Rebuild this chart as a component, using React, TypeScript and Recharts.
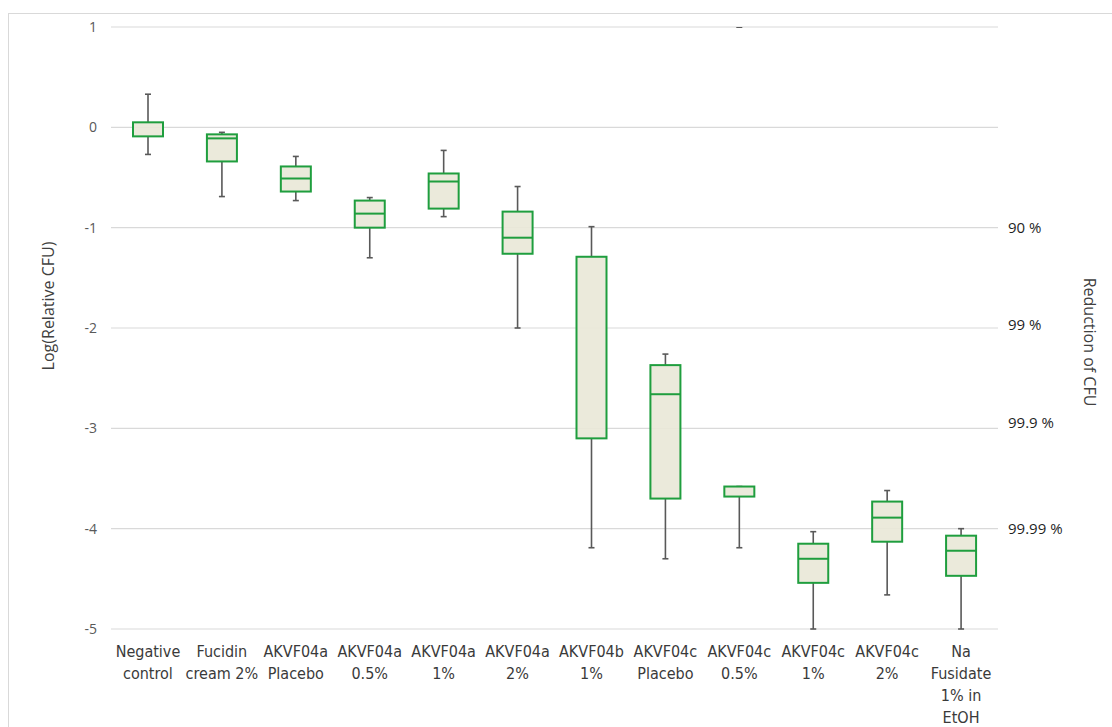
import React from "react";
import {
  ComposedChart,
  Bar,
  Scatter,
  XAxis,
  YAxis,
  CartesianGrid,
} from "recharts";

const categories = [
  "Negative\ncontrol",
  "Fucidin\ncream 2%",
  "AKVF04a\nPlacebo",
  "AKVF04a\n0.5%",
  "AKVF04a\n1%",
  "AKVF04a\n2%",
  "AKVF04b\n1%",
  "AKVF04c\nPlacebo",
  "AKVF04c\n0.5%",
  "AKVF04c\n1%",
  "AKVF04c\n2%",
  "Na\nFusidate\n1% in\nEtOH",
];
const whiskerMax = [0.33, -0.05, -0.29, -0.7, -0.23, -0.59, -0.99, -2.26, -3.58, -4.03, -3.62, -4.0];
const q3 = [0.05, -0.07, -0.39, -0.73, -0.46, -0.84, -1.29, -2.37, -3.58, -4.15, -3.73, -4.07];
const median: (number | null)[] = [null, -0.11, -0.51, -0.86, -0.54, -1.1, null, -2.66, null, -4.3, -3.89, -4.22];
const q1 = [-0.09, -0.34, -0.64, -1.0, -0.81, -1.26, -3.1, -3.7, -3.68, -4.54, -4.13, -4.47];
const whiskerMin = [-0.27, -0.69, -0.73, -1.3, -0.89, -2.0, -4.19, -4.3, -4.19, -5.0, -4.66, -5.0];
const strayCap: (number | null)[] = [null, null, null, null, null, null, null, null, 1, null, null, null];

const leftTicks = [-5, -4, -3, -2, -1, 0, 1];
const rightTickValues = [-1, -1.97, -2.95, -4];
const rightTickLabels = ["90 %", "99 %", "99.9 %", "99.99 %"];

const data = categories.map((name, i) => ({
  name,
  range: [whiskerMin[i], whiskerMax[i]],
  min: whiskerMin[i],
  max: whiskerMax[i],
  q1: q1[i],
  q3: q3[i],
  median: median[i],
  stray: strayCap[i],
}));

const BOX_FILL = "#e9e8d8";
const BOX_STROKE = "#1f9e3e";
const WHISKER = "#595959";

const BoxShape = (props: any) => {
  const { x, y, width, height, payload } = props;
  if (x == null || y == null) return null;
  const top = Math.min(y, y + height);
  const bot = Math.max(y, y + height);
  const { min, max } = payload;
  const span = max - min;
  const pix = (v: number) => (span === 0 ? top : top + ((max - v) / span) * (bot - top));
  const cx = x + width / 2;
  const yQ3 = pix(payload.q3);
  const yQ1 = pix(payload.q1);
  const cap = 3;
  return (
    <g>
      <line x1={cx} x2={cx} y1={pix(max)} y2={yQ3} stroke={WHISKER} strokeWidth={1.6} />
      <line x1={cx} x2={cx} y1={yQ1} y2={pix(min)} stroke={WHISKER} strokeWidth={1.6} />
      <line x1={cx - cap} x2={cx + cap} y1={pix(max)} y2={pix(max)} stroke={WHISKER} strokeWidth={1.6} />
      <line x1={cx - cap} x2={cx + cap} y1={pix(min)} y2={pix(min)} stroke={WHISKER} strokeWidth={1.6} />
      <rect x={x} y={yQ3} width={width} height={Math.max(0, yQ1 - yQ3)} fill={BOX_FILL} fillOpacity={0.92} stroke={BOX_STROKE} strokeWidth={2} />
      {payload.median != null && (
        <line x1={x} x2={x + width} y1={pix(payload.median)} y2={pix(payload.median)} stroke={BOX_STROKE} strokeWidth={2} />
      )}
    </g>
  );
};

const StrayShape = (props: any) => {
  const { cx, cy, payload } = props;
  if (payload == null || payload.stray == null || cx == null || cy == null || isNaN(cy)) return <g />;
  return <line x1={cx - 3} x2={cx + 3} y1={cy} y2={cy} stroke={WHISKER} strokeWidth={1.8} />;
};

const CategoryTick = (props: any) => {
  const { x, y, payload } = props;
  const lines = String(payload.value).split("\n");
  return (
    <text
      x={x}
      y={y}
      textAnchor="middle"
      fill="#3a3a3a"
      fontSize={16}
      fontFamily="'Liberation Sans Narrow', 'DejaVu Sans Condensed', 'Noto Sans', sans-serif"
    >
      {lines.map((l, i) => (
        <tspan key={i} x={x} dy={i === 0 ? 20 : 22}>
          {l}
        </tspan>
      ))}
    </text>
  );
};

const RightTick = (props: any) => {
  const { x, y, payload } = props;
  const idx = rightTickValues.indexOf(payload.value);
  return (
    <text x={x} y={y} dy={5} textAnchor="start" fill="#1f1f1f" fontSize={15} fontFamily="'Open Sans', 'Noto Sans', sans-serif">
      {idx >= 0 ? rightTickLabels[idx] : ""}
    </text>
  );
};

const LeftTitle = (props: any) => {
  const vb = props.viewBox || {};
  const cx = vb.x + 48;
  const cy = vb.y + vb.height / 2 - 22;
  return (
    <text x={cx} y={cy} transform={`rotate(-90 ${cx} ${cy})`} textAnchor="middle" dominantBaseline="central" fill="#404040" fontSize={16} fontFamily="'Open Sans', 'Noto Sans', sans-serif">
      Log(Relative CFU)
    </text>
  );
};

const RightTitle = (props: any) => {
  const vb = props.viewBox || {};
  const cx = vb.x + 92;
  const cy = vb.y + vb.height / 2 + 14;
  return (
    <text x={cx} y={cy} transform={`rotate(90 ${cx} ${cy})`} textAnchor="middle" dominantBaseline="central" fill="#404040" fontSize={16} fontFamily="'Open Sans', 'Noto Sans', sans-serif">
      Reduction of CFU
    </text>
  );
};

export default function App() {
  return (
    <div style={{ position: "fixed", left: 0, top: 0, width: 1112, height: 727, background: "#fff", overflow: "hidden" }}>
      <div
        style={{
          position: "absolute",
          left: 8,
          top: 13,
          width: 1110,
          height: 720,
          border: "1px solid #d9d9d9",
          boxSizing: "border-box",
        }}
      />
      <div style={{ position: "absolute", left: 0, top: 0 }}>
        <ComposedChart
          width={1112}
          height={727}
          data={data}
          margin={{ top: 27, right: 0, bottom: 8, left: 0 }}
          barCategoryGap={0}
        >
          <CartesianGrid vertical={false} stroke="#d9d9d9" strokeWidth={1.2} yAxisId="left" />
          <XAxis
            dataKey="name"
            interval={0}
            tickLine={false}
            axisLine={false}
            height={90}
            tick={<CategoryTick />}
          />
          <YAxis
            yAxisId="left"
            orientation="left"
            width={111}
            domain={[-5, 1]}
            ticks={leftTicks}
            tickLine={false}
            axisLine={false}
            tickSize={6}
            tickMargin={8}
            tick={{ fill: "#595959", fontSize: 14, fontFamily: "'Open Sans', 'Noto Sans', sans-serif" }}
            label={<LeftTitle />}
          />
          <YAxis
            yAxisId="right"
            orientation="right"
            width={114}
            type="number"
            domain={[-5, 1]}
            ticks={rightTickValues}
            interval={0}
            allowDataOverflow
            tickLine={false}
            axisLine={false}
            tickSize={6}
            tickMargin={4}
            tick={<RightTick />}
            label={<RightTitle />}
          />
          <Bar yAxisId="left" dataKey="range" barSize={30} shape={<BoxShape />} isAnimationActive={false} />
          <Scatter yAxisId="right" dataKey="stray" shape={<StrayShape />} isAnimationActive={false} />
        </ComposedChart>
      </div>
    </div>
  );
}
